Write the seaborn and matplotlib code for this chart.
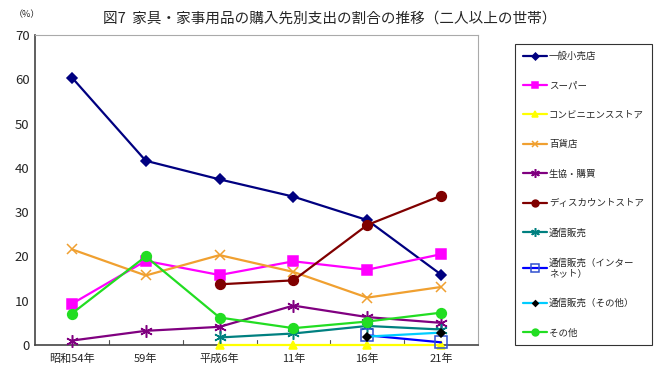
import numpy as np
import pandas as pd
import matplotlib
matplotlib.use("Agg")
import matplotlib.pyplot as plt
import seaborn as sns

# Data (%)
years = ["昭和54年", "59年", "平成6年", "11年", "16年", "21年"]
general_store = [60.4, 41.6, 37.4, 33.5, 28.2, 15.9]
supermarket = [9.3, 19.0, 15.8, 18.9, 17.0, 20.5]
convenience = [np.nan, np.nan, 0.1, 0.1, 0.1, 0.1]
department = [21.6, 15.7, 20.3, 16.5, 10.7, 13.1]
coop = [1.0, 3.2, 4.1, 8.9, 6.3, 5.0]
discount = [np.nan, np.nan, 13.7, 14.6, 27.1, 33.7]
mail_order = [np.nan, np.nan, 1.7, 2.6, 4.3, 3.5]
mail_internet = [np.nan, np.nan, np.nan, np.nan, 2.2, 0.6]
mail_other = [np.nan, np.nan, np.nan, np.nan, 1.9, 2.8]
others = [7.1, 20.0, 6.2, 3.8, 5.3, 7.3]

star = (6, 2, 0)  # thin asterisk
series = [
    ("一般小売店", general_store, "#000080", "D", 5, "#000080", "#000080"),
    ("スーパー", supermarket, "#FF00FF", "s", 7, "#FF00FF", "#FF00FF"),
    ("コンビニエンスストア", convenience, "#FFFF00", "^", 6, "#FFFF00", "#FFFF00"),
    ("百貨店", department, "#F0A030", "x", 7, "#F0A030", "#F0A030"),
    ("生協・購買", coop, "#800080", star, 9, "#800080", "#800080"),
    ("ディスカウントストア", discount, "#800000", "o", 7, "#800000", "#800000"),
    ("通信販売", mail_order, "#008080", star, 9, "#008080", "#008080"),
    ("通信販売（インター\nネット）", mail_internet, "#0000FF", "s", 8, "none", "#3050D0"),
    ("通信販売（その他）", mail_other, "#00CCFF", "D", 4, "#000000", "#000000"),
    ("その他", others, "#22DD22", "o", 7, "#22DD22", "#22DD22"),
]

sns.set_style("white")
plt.rcParams['font.family'] = ['Noto Sans CJK JP', 'DejaVu Sans']

fig = plt.figure(figsize=(6.6, 3.8), dpi=100)
ax = fig.add_axes([35 / 660, 35 / 380, 443 / 660, 310 / 380])

x = np.arange(len(years))
handles = []
for name, vals, color, marker, ms, mfc, mec in series:
    sns.lineplot(x=x, y=vals, ax=ax, color=color, marker=marker, markersize=ms,
                 markerfacecolor=mfc, markeredgecolor=mec, markeredgewidth=1.1,
                 linewidth=1.6, label=name, legend=False)
    line = ax.lines[-1]
    line.set_clip_on(False)
    line.set_zorder(5)
    handles.append(line)

ax.set_xlim(-0.5, len(years) - 0.5)
ax.set_ylim(0, 70)
ax.set_yticks(range(0, 71, 10))
ax.set_xticks(x)
ax.set_xticklabels(years, fontsize=8)
ax.tick_params(axis='y', labelsize=9.5, length=0, pad=4)
ax.tick_params(axis='x', length=0, pad=6)
# small category separators on the x axis
for b in np.arange(0.5, len(years) - 0.5, 1):
    ax.plot([b, b], [0, 1.2], color="#555555", linewidth=0.8)

for side in ["top", "right"]:
    ax.spines[side].set_color("#AAAAAA")
    ax.spines[side].set_linewidth(0.8)
for side in ["left", "bottom"]:
    ax.spines[side].set_color("#444444")
    ax.spines[side].set_linewidth(1.2)

fig.text(0.5, 0.952, "図7  家具・家事用品の購入先別支出の割合の推移（二人以上の世帯）",
         ha="center", va="center", fontsize=10.5)
fig.text(14 / 660, 1 - 15 / 380, "（%）", ha="left", va="center", fontsize=6.5)

leg = fig.legend(handles=handles, labels=[s[0] for s in series],
                 loc="upper left", bbox_to_anchor=(515 / 660, 1 - 44 / 380),
                 frameon=True, fancybox=False, fontsize=6.8, labelspacing=2.15,
                 handlelength=2.6, handletextpad=0.2, borderpad=0.8,
                 borderaxespad=0, markerscale=0.7)
leg.get_frame().set_edgecolor("black")
leg.get_frame().set_linewidth(0.8)

fig.savefig("out.png", dpi=100)
